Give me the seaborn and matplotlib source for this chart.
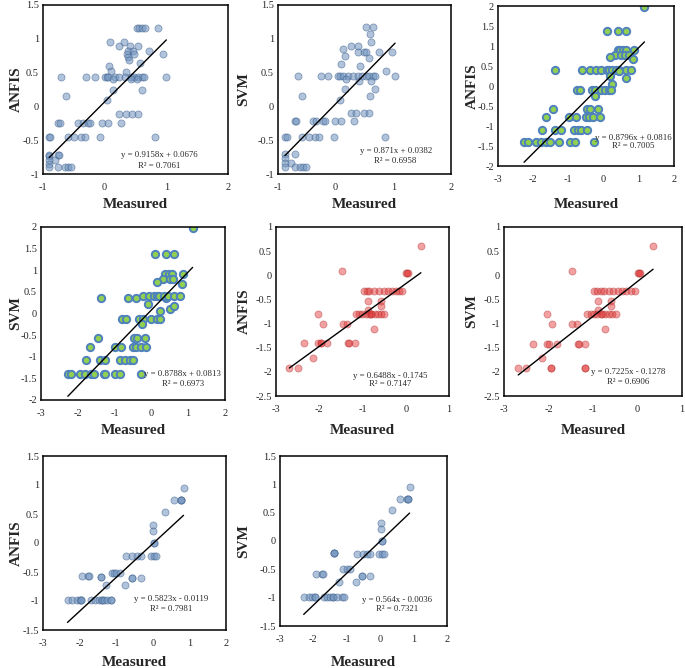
import matplotlib
matplotlib.use('Agg')
import matplotlib.pyplot as plt
import seaborn as sns
from matplotlib.ticker import FuncFormatter, MultipleLocator

# dataset A (first row, blue spheres)
a_anfis_x = [0.52, 0.56, 0.60, 0.65, 0.87, 0.09, 0.32, 0.23, 0.41, 0.54, 0.38, 0.46, 0.72,
             0.36, 0.48, 0.95, 0.38, 0.39, 0.57, 0.07, 0.11, 0.34,
             -0.70, -0.30, -0.16, 0.0, 0.03, 0.06, 0.16, 0.24, 0.33, 0.43, 0.48, 0.54, 0.60, 0.63, 1.0,
             0.14, 0.43, 0.52, 0.14, 0.60, -0.63, 0.04,
             0.23, 0.34, 0.45, 0.54,
             -0.75, -0.72, -0.43, -0.35, -0.27, -0.23, -0.05, 0.05, 0.27,
             -0.90, -0.88, -0.60, -0.50, -0.38, -0.32, -0.07, 0.82,
             -0.90, -0.90, -0.76, -0.74, -0.90, -0.80, -0.90,
             -0.90, -0.76, -0.65, -0.59, -0.54]
a_anfis_y = [1.16, 1.16, 1.16, 1.16, 1.16, 0.95, 0.95, 0.89, 0.89, 0.89, 0.82, 0.82, 0.82,
             0.78, 0.78, 0.78, 0.73, 0.69, 0.64, 0.60, 0.53, 0.51,
             0.43, 0.43, 0.43, 0.43, 0.43, 0.43, 0.43, 0.43, 0.43, 0.43, 0.43, 0.43, 0.43, 0.43, 0.43,
             0.41, 0.41, 0.41, 0.24, 0.24, 0.15, 0.10,
             -0.11, -0.11, -0.11, -0.11,
             -0.24, -0.24, -0.24, -0.24, -0.24, -0.24, -0.24, -0.24, -0.24,
             -0.45, -0.45, -0.45, -0.45, -0.45, -0.45, -0.45, -0.45,
             -0.72, -0.74, -0.72, -0.72, -0.79, -0.79, -0.85,
             -0.90, -0.90, -0.90, -0.90, -0.90]

a_svm_x = [0.52, 0.65, 0.59, 0.62, 0.26, 0.39, 0.13, 0.39, 0.49, 0.53, 0.76, 0.98, 0.16, 0.58,
           0.10, 0.43, 0.88,
           -0.66, -0.26, -0.13, 0.04, 0.08, 0.13, 0.22, 0.30, 0.39, 0.46, 0.52, 0.58, 0.64, 0.68, 1.03,
           0.18, 0.40, 0.61, 0.17, 0.68, -0.59, 0.59, 0.08,
           0.26, 0.36, 0.49, 0.58,
           -0.71, -0.68, -0.40, -0.34, -0.22, -0.19, -0.01, 0.10, 0.31,
           -0.87, -0.84, -0.58, -0.46, -0.35, -0.29, -0.03, 0.85,
           -0.88, -0.71, -0.88, -0.88, -0.78, -0.88, -0.71, -0.62, -0.57, -0.51]
a_svm_y = [1.17, 1.17, 1.07, 0.95, 0.90, 0.90, 0.85, 0.80, 0.80, 0.80, 0.80, 0.80, 0.75, 0.71,
           0.62, 0.60, 0.52,
           0.45, 0.45, 0.45, 0.45, 0.45, 0.45, 0.45, 0.45, 0.45, 0.45, 0.45, 0.45, 0.45, 0.45, 0.45,
           0.41, 0.37, 0.37, 0.26, 0.26, 0.15, 0.15, 0.10,
           -0.10, -0.10, -0.10, -0.10,
           -0.22, -0.22, -0.22, -0.22, -0.22, -0.22, -0.22, -0.22, -0.22,
           -0.45, -0.45, -0.45, -0.45, -0.45, -0.45, -0.45, -0.45,
           -0.71, -0.71, -0.77, -0.84, -0.84, -0.89, -0.89, -0.89, -0.89, -0.89]

# dataset B (green)
b_anfis_x = [1.16, 0.11, 0.42, 0.64, 0.40, 0.47, 0.54, 0.63, 0.87, 0.33, 0.50, 0.60, 0.71,
             0.18, 0.83,
             -1.38, -0.62, -0.38, -0.22, -0.06, 0.09, 0.16, 0.23, 0.35, 0.45, 0.64, 0.78,
             0.43, 0.64, 0.18, 0.23,
             -0.76, -0.67, -0.33, -0.24, -0.08, 0.05, 0.14, 0.21, -0.25,
             -1.44, -0.46, -0.38, -0.17,
             -1.64, -0.98, -0.79, -0.49, -0.41, -0.30, -0.10,
             -1.76, -1.39, -1.22, -0.84, -0.74, -0.65, -0.48,
             -2.26, -2.16, -1.93, -1.79, -1.65, -1.52, -1.26, -0.95, -0.81, -0.27]
b_anfis_y = [1.97, 1.38, 1.38, 1.38, 0.90, 0.90, 0.90, 0.90, 0.90, 0.78, 0.78, 0.78, 0.78,
             0.72, 0.68,
             0.40, 0.40, 0.40, 0.40, 0.40, 0.40, 0.40, 0.40, 0.40, 0.40, 0.40, 0.40,
             0.37, 0.19, 0.24, 0.06,
             -0.11, -0.11, -0.11, -0.11, -0.11, -0.11, -0.11, -0.11, -0.26,
             -0.57, -0.57, -0.57, -0.57,
             -0.78, -0.78, -0.78, -0.78, -0.78, -0.78, -0.78,
             -1.09, -1.09, -1.09, -1.09, -1.09, -1.09, -1.09,
             -1.40, -1.40, -1.40, -1.40, -1.40, -1.40, -1.40, -1.40, -1.40, -1.40]

b_svm_x = [1.12, 0.09, 0.41, 0.62, 0.38, 0.48, 0.57, 0.85, 0.32, 0.50, 0.59, 0.16, 0.82,
           -1.38, -0.64, -0.41, 0.41,
           -0.23, -0.06, 0.07, 0.14, 0.20, 0.35, 0.45, 0.62, 0.77,
           -0.09, 0.23, 0.50, 0.61,
           -0.79, -0.68, -0.34, -0.23, -0.02, 0.14, 0.23, -0.25,
           -1.45, -0.48, -0.38, -0.18,
           -1.68, -1.0, -0.82, -0.50, -0.41, -0.27, -0.14,
           -1.77, -1.41, -1.25, -0.86, -0.73, -0.59, -0.50,
           -2.27, -2.18, -1.95, -1.81, -1.63, -1.56, -1.29, -1.25, -1.0, -0.85, -0.27]
b_svm_y = [1.97, 1.37, 1.37, 1.37, 0.91, 0.91, 0.91, 0.91, 0.79, 0.79, 0.79, 0.72, 0.68,
           0.35, 0.35, 0.35, 0.35,
           0.40, 0.40, 0.40, 0.40, 0.40, 0.40, 0.40, 0.40, 0.40,
           0.21, 0.06, 0.10, 0.18,
           -0.12, -0.12, -0.12, -0.12, -0.12, -0.12, -0.12, -0.25,
           -0.56, -0.56, -0.56, -0.56,
           -0.77, -0.77, -0.77, -0.77, -0.77, -0.77, -0.77,
           -1.08, -1.08, -1.08, -1.08, -1.08, -1.08, -1.08,
           -1.39, -1.39, -1.39, -1.39, -1.39, -1.39, -1.39, -1.39, -1.39, -1.39, -1.39]

# dataset C (red)
c_anfis_x = [0.35, -1.48, 0.0, 0.03, 0.05,
             -0.96, -0.90, -0.84, -0.73, -0.61, -0.50, -0.40, -0.31, -0.23, -0.15, -0.08,
             -0.87, -0.58, -0.58, -0.87,
             -2.04, -1.15, -1.08, -1.0, -0.92, -0.86, -0.80, -0.80, -0.72, -0.65, -0.58, -0.50,
             -1.91, -1.46, -1.36, -0.73,
             -2.35, -2.02, -1.97, -1.95, -1.81, -1.33, -1.31, -1.17,
             -2.15, -2.69, -2.50]
c_anfis_y = [0.60, 0.09, 0.05, 0.05, 0.05,
             -0.33, -0.33, -0.33, -0.33, -0.33, -0.33, -0.33, -0.33, -0.33, -0.33, -0.33,
             -0.53, -0.53, -0.64, -0.72,
             -0.81, -0.81, -0.81, -0.81, -0.81, -0.81, -0.81, -0.81, -0.81, -0.81, -0.81, -0.81,
             -1.0, -1.0, -1.0, -1.11,
             -1.41, -1.41, -1.41, -1.41, -1.41, -1.41, -1.41, -1.41,
             -1.71, -1.92, -1.92]

c_svm_x = [0.35, -1.48, 0.0, 0.03, 0.05,
           -0.98, -0.90, -0.82, -0.75, -0.65, -0.55, -0.44, -0.35, -0.25, -0.15, -0.05,
           -0.88, -0.60, -0.59, -0.88,
           -2.03, -1.13, -1.05, -0.98, -0.90, -0.82, -0.80, -0.72, -0.65, -0.58, -0.49,
           -1.92, -1.47, -1.35, -0.74,
           -2.35, -2.03, -1.98, -1.80, -1.33, -1.31, -1.19,
           -2.14, -2.68, -2.50, -1.95, -1.95, -1.17, -1.17]
c_svm_y = [0.60, 0.08, 0.05, 0.05, 0.05,
           -0.33, -0.33, -0.33, -0.33, -0.33, -0.33, -0.33, -0.33, -0.33, -0.33, -0.33,
           -0.53, -0.53, -0.64, -0.72,
           -0.81, -0.81, -0.81, -0.81, -0.81, -0.81, -0.81, -0.81, -0.81, -0.81, -0.81,
           -1.0, -1.0, -1.0, -1.12,
           -1.42, -1.42, -1.42, -1.42, -1.42, -1.42, -1.42,
           -1.72, -1.91, -1.91, -1.91, -1.91, -1.91, -1.91]

# dataset D (grey-blue, last row)
d_anfis_x = [0.84, 0.58, 0.76, 0.78, 0.78, 0.32, 0.0, 0.0, 0.03, 0.03,
             -0.73, -0.57, -0.44, -0.32, -0.05, 0.02, 0.09,
             -1.12, -1.05, -1.0, -0.90,
             -1.94, -1.78, -1.75, -1.42, -1.42, -0.58, -0.58, -0.32,
             -1.28, -0.75,
             -2.33, -2.20, -2.08, -1.98, -1.96, -1.96, -1.69, -1.58, -1.48, -1.40, -1.38, -1.32,
             -1.24, -1.14, -1.14]
d_anfis_y = [0.95, 0.74, 0.74, 0.74, 0.74, 0.54, 0.31, 0.20, 0.0, 0.0,
             -0.22, -0.22, -0.22, -0.22, -0.22, -0.22, -0.22,
             -0.52, -0.52, -0.52, -0.52,
             -0.57, -0.57, -0.57, -0.59, -0.59, -0.60, -0.60, -0.60,
             -0.73, -0.73,
             -0.98, -0.98, -0.98, -0.98, -0.98, -0.98, -0.98, -0.98, -0.98, -0.98, -0.98, -0.98,
             -0.98, -0.98, -0.98]

d_svm_x = [0.88, 0.60, 0.80, 0.83, 0.83, 0.35, 0.02, 0.02, 0.05, 0.05,
           -1.39, -1.39, -1.39,
           -0.70, -0.52, -0.40, -0.30, -0.05, 0.05, 0.12,
           -1.11, -1.0, -0.90,
           -1.91, -1.74, -1.71, -0.55, -0.55, -0.30,
           -1.24, -0.73,
           -2.29, -2.14, -2.04, -1.94, -1.94, -1.69, -1.59, -1.49, -1.41, -1.41, -1.29,
           -1.14, -1.09]
d_svm_y = [0.95, 0.74, 0.74, 0.74, 0.74, 0.55, 0.32, 0.21, 0.0, 0.0,
           -0.21, -0.21, -0.21,
           -0.23, -0.23, -0.23, -0.23, -0.23, -0.23, -0.23,
           -0.50, -0.50, -0.50,
           -0.58, -0.58, -0.58, -0.62, -0.62, -0.62,
           -0.73, -0.73,
           -0.98, -0.98, -0.98, -0.98, -0.98, -0.98, -0.98, -0.98, -0.98, -0.98, -0.98,
           -0.98, -0.98]

# trend line coefficients and R2 as printed on the panels
slopes = [0.9158, 0.871, 0.8796, 0.8788, 0.6488, 0.7225, 0.5823, 0.564]
intercepts = [0.0676, 0.0382, 0.0816, 0.0813, -0.1745, -0.1278, -0.0119, -0.0036]
r2_values = ['0.7061', '0.6958', '0.7005', '0.6973', '0.7147', '0.6906', '0.7981', '0.7321']
eq_labels = ['y = 0.9158x + 0.0676', 'y = 0.871x + 0.0382', 'y = 0.8796x + 0.0816',
             'y = 0.8788x + 0.0813', 'y = 0.6488x - 0.1745', 'y = 0.7225x - 0.1278',
             'y = 0.5823x - 0.0119', 'y = 0.564x - 0.0036']
model_names = ['ANFIS', 'SVM', 'ANFIS', 'SVM', 'ANFIS', 'SVM', 'ANFIS', 'SVM']

xs = [a_anfis_x, a_svm_x, b_anfis_x, b_svm_x, c_anfis_x, c_svm_x, d_anfis_x, d_svm_x]
ys = [a_anfis_y, a_svm_y, b_anfis_y, b_svm_y, c_anfis_y, c_svm_y, d_anfis_y, d_svm_y]

sns.set_style('white')
plt.rcParams['font.family'] = ['Liberation Serif', 'DejaVu Serif']

W, H = 685, 668
fig = plt.figure(figsize=(6.85, 6.68), dpi=100)

# pixel boxes of each panel (left, top, right, bottom)
px_boxes = [(43, 5, 228, 174), (278, 5, 451, 174), (498, 6, 674, 166),
            (41, 227, 225, 400), (276, 227, 449, 396), (504, 227, 682, 396),
            (43, 456, 226, 630), (280, 456, 447, 626)]
# distance (px) of label centres from the axes edges
xlab_dist = [32, 32, 40, 32, 36, 35, 33, 38]
ylab_dist = [28, 35, 27, 26, 33, 33, 28, 37]
xlims = [(-1, 2), (-1, 2), (-3, 2), (-3, 2), (-3, 1), (-3, 1), (-3, 2), (-3, 2)]
ylims = [(-1, 1.5), (-1, 1.5), (-2, 2), (-2, 2), (-2.5, 1), (-2.5, 1), (-1.5, 1.5), (-1.5, 1.5)]
text_pos = [(0.63, 0.11, 0.05), (0.68, 0.136, 0.077), (0.77, 0.174, 0.124), (0.77, 0.15, 0.09),
            (0.66, 0.12, 0.07), (0.70, 0.14, 0.08), (0.70, 0.18, 0.12), (0.70, 0.15, 0.10)]

blue = dict(s=26, color='#6f93bf', edgecolor='#3e5f8a', linewidth=0.6, alpha=0.55)
green = dict(s=28, color='#92d050', edgecolor='#4f81bd', linewidth=1.4, alpha=1.0)
red = dict(s=26, color='#e03030', edgecolor='#b03030', linewidth=0.6, alpha=0.45)
styles = [blue, blue, green, green, red, red, blue, blue]

fmt = FuncFormatter(lambda v, p: '%g' % v)

for i in range(8):
    l, t, r, b = px_boxes[i]
    w, h = r - l, b - t
    ax = fig.add_axes([l / W, 1 - b / H, w / W, h / H])
    sns.scatterplot(x=xs[i], y=ys[i], ax=ax, **styles[i])
    x0, x1 = min(xs[i]), max(xs[i])
    ax.plot([x0, x1], [slopes[i] * x0 + intercepts[i], slopes[i] * x1 + intercepts[i]],
            color='black', lw=1)
    ax.set_xlim(*xlims[i])
    ax.set_ylim(*ylims[i])
    ax.xaxis.set_major_locator(MultipleLocator(1))
    ax.yaxis.set_major_locator(MultipleLocator(0.5))
    ax.xaxis.set_major_formatter(fmt)
    ax.yaxis.set_major_formatter(fmt)
    ax.tick_params(axis='x', length=0, pad=6.5, labelsize=7.5)
    ax.tick_params(axis='y', length=0, pad=3, labelsize=7.5)
    for sp in ax.spines.values():
        sp.set_color('black')
        sp.set_linewidth(1.1)
    ax.set_xlabel('Measured', fontsize=11, fontweight='bold')
    ax.set_ylabel(model_names[i], fontsize=11, fontweight='bold')
    ax.xaxis.set_label_coords(0.5, -(xlab_dist[i] - 7.5) / h)
    ax.yaxis.set_label_coords(-(ylab_dist[i] - 7.5) / w, 0.5)
    tx, ty1, ty2 = text_pos[i]
    ax.text(tx, ty1, eq_labels[i], transform=ax.transAxes, ha='center', va='center', fontsize=6.3)
    ax.text(tx, ty2, 'R\u00b2 = ' + r2_values[i], transform=ax.transAxes, ha='center',
            va='center', fontsize=6.3)

fig.savefig('out.png', dpi=100)
